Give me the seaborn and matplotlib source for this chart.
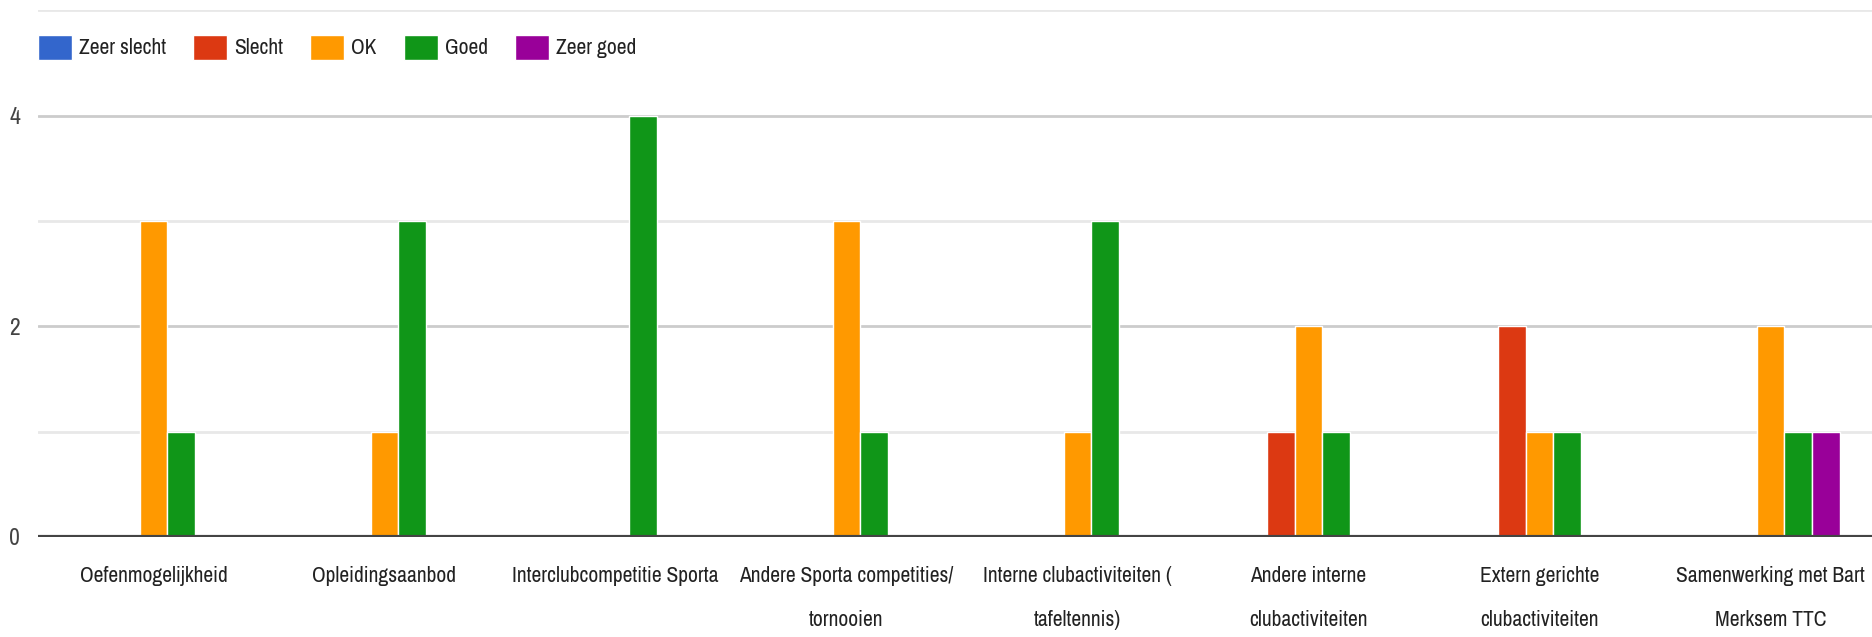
import matplotlib
matplotlib.use("Agg")
import matplotlib.pyplot as plt
import pandas as pd
import seaborn as sns

# ── data ────────────────────────────────────────────────────────────────────
categories = [
    "Oefenmogelijkheid",
    "Opleidingsaanbod",
    "Interclubcompetitie Sporta",
    "Andere Sporta competities/\ntornooien",
    "Interne clubactiviteiten (\ntafeltennis)",
    "Andere interne\nclubactiviteiten",
    "Extern gerichte\nclubactiviteiten",
    "Samenwerking met Bart\nMerksem TTC",
]
ratings = ["Zeer slecht", "Slecht", "OK", "Goed", "Zeer goed"]
zeer_slecht = [0, 0, 0, 0, 0, 0, 0, 0]
slecht = [0, 0, 0, 0, 0, 1, 2, 0]
ok = [3, 1, 0, 3, 1, 2, 1, 2]
goed = [1, 3, 4, 1, 3, 1, 1, 1]
zeer_goed = [0, 0, 0, 0, 0, 0, 0, 1]

colors = ["#3366CC", "#DC3912", "#FF9900", "#109618", "#990099"]

rows = []
for rating, vals in zip(ratings, [zeer_slecht, slecht, ok, goed, zeer_goed]):
    for cat, v in zip(categories, vals):
        rows.append({"Categorie": cat, "Beoordeling": rating, "Aantal": v})
df = pd.DataFrame(rows)

# ── style ───────────────────────────────────────────────────────────────────
sns.set_style("white")
# narrow grotesque to mimic the squeezed Arial of the original screenshot
plt.rcParams["font.family"] = ["Archivo Narrow", "Liberation Sans", "DejaVu Sans"]
fs = 15.5
text_col = "#222222"

fig = plt.figure(figsize=(18.72, 6.37), dpi=100)
ax = fig.add_axes([0.0203, 0.157, 0.9797, 0.827])

sns.barplot(data=df, x="Categorie", y="Aantal", hue="Beoordeling",
            hue_order=ratings, order=categories, palette=colors,
            saturation=1, width=0.6, edgecolor="white", linewidth=1, ax=ax)

ax.set_xlim(-0.5, 7.44)
ax.set_ylim(0, 5)
for spine in ax.spines.values():
    spine.set_visible(False)

# gridlines: major at 2/4, minor at 1/3/5
for y in [1, 3, 5]:
    ax.axhline(y, color="#e8e8e8", lw=2, zorder=0)
for y in [2, 4]:
    ax.axhline(y, color="#cccccc", lw=2, zorder=0)
ax.axhline(0, color="#444444", lw=3, zorder=3)

ax.set_yticks([0, 2, 4])
ax.set_yticklabels(["0", "2", "4"])
ax.tick_params(axis="y", length=0, pad=13, labelsize=17, labelcolor="#444444")

# category labels drawn as annotations so the wide line spacing sticks
ax.set_xticks(range(len(categories)))
ax.set_xticklabels([])
ax.tick_params(axis="x", length=0)
for i, cat in enumerate(categories):
    ax.annotate(cat, xy=(i, 0), xycoords=("data", "axes fraction"),
                xytext=(0, -21), textcoords="offset points",
                ha="center", va="top", fontsize=fs, color=text_col,
                linespacing=2.5, annotation_clip=False)
ax.set_xlabel("")
ax.set_ylabel("")

ax.legend(loc="center left", bbox_to_anchor=(0.0, 0.93), ncol=5,
          frameon=False, fontsize=fs, labelcolor=text_col,
          handlelength=1.58, handleheight=1.4, handletextpad=0.33,
          columnspacing=1.25, borderaxespad=0, borderpad=0)

fig.savefig("out.png", dpi=100)
